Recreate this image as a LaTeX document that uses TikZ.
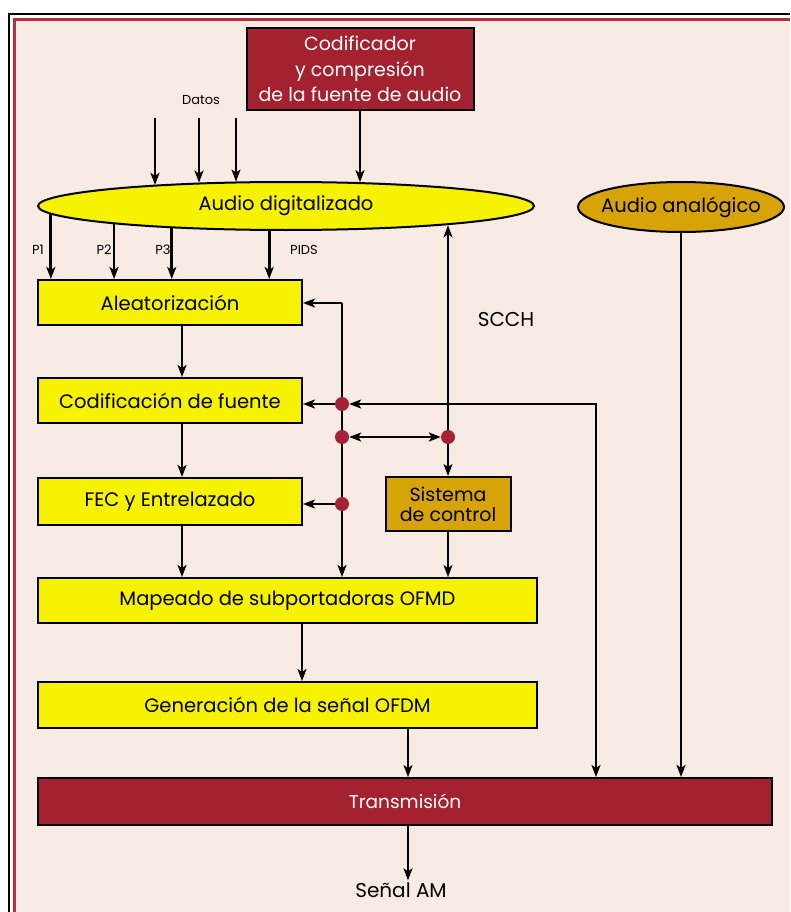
\documentclass[tikz,border=0pt]{standalone}
\usepackage{fontspec}
\setmainfont{Poppins}
\usetikzlibrary{arrows.meta,shapes.geometric}

\definecolor{bgpeach}{HTML}{F8EBE3}
\definecolor{boxyellow}{HTML}{F7F300}
\definecolor{boxred}{HTML}{A4212F}
\definecolor{boxgold}{HTML}{D6A406}
\definecolor{dotred}{HTML}{A82035}
\definecolor{framered}{HTML}{B5303F}

\pgfdeclarelayer{wires}
\pgfdeclarelayer{paper}
\pgfsetlayers{paper,wires,main}

\begin{document}
\begin{tikzpicture}[x=1pt,y=-1pt,
  tip/.tip={Stealth[length=12pt,width=9pt,inset=3pt]},
  ybox/.style={draw=black, line width=2pt, fill=boxyellow, minimum width=264pt,
    minimum height=45pt, inner sep=0pt, font=\fontsize{19.5}{22}\selectfont},
  rbox/.style={draw=black, line width=2pt, fill=boxred, text=white, inner sep=0pt,
    font=\fontsize{18.5}{22}\selectfont},
  oval/.style={ellipse, draw=black, line width=2pt, inner sep=0pt,
    font=\fontsize{19.5}{22}\selectfont},
  tag/.style={inner sep=1pt, font=\fontsize{13}{15}\selectfont},
  plain/.style={inner sep=2pt, font=\fontsize{20}{22}\selectfont},
  junction/.style={circle, fill=dotred, minimum size=14pt, inner sep=0pt},
  arr/.style={-tip, line width=2.8pt},
  arrmid/.style={-tip, line width=2.1pt},
  arrthin/.style={-tip, line width=1.6pt},
  both/.style={tip-tip, line width=2.1pt},
  boththin/.style={tip-tip, line width=1.6pt}]

\useasboundingbox (0,0) rectangle (790,912);

% page frame
\begin{pgfonlayer}{paper}
\fill[white] (0,0) rectangle (790,912);
\fill[bgpeach] (16,21) rectangle (790,912);
\draw[line width=2.5pt, line join=miter] (9,912) -- (9,14) -- (790,14);
\draw[framered, line width=3pt, line join=miter] (14.5,912) -- (14.5,19.5) -- (790,19.5);
\end{pgfonlayer}

% blocks
\node[rbox, minimum width=227pt, minimum height=82pt, align=center,
  font=\fontsize{19}{25.5}\selectfont] (cod) at (360,69)
  {Codificador\\y compresión\\de la fuente de audio};
\node[oval, fill=boxyellow, minimum width=496pt, minimum height=48pt] (dig) at (286,206)
  {\makebox[0pt]{Audio digitalizado}};
\node[oval, fill=boxgold, minimum width=206pt, minimum height=50pt] (ana) at (681,207)
  {\makebox[0pt]{Audio analógico}};

\node[ybox] (alea) at (170,302.5) {Aleatorización};
\node[ybox] (codf) at (170,400.5) {Codificación de fuente};
\node[ybox, minimum height=47pt] (fec) at (170,501.5) {FEC y Entrelazado};
\node[ybox, fill=boxgold, minimum width=125pt, minimum height=54pt, align=center,
  font=\fontsize{19}{20}\selectfont] (sis) at (448,504) {Sistema\\de control};
\node[ybox, minimum width=499pt] (map) at (287.5,600.5) {Mapeado de subportadoras OFMD};
\node[ybox, minimum width=499pt, minimum height=46pt] (gen) at (287.5,705)
  {Generación de la señal OFDM};
\node[rbox, minimum width=734pt, minimum height=47pt] (tra) at (405,801.5) {Transmisión};

% labels
\node[tag] (datos) at (201,100) {Datos};
\node[tag] (p1) at (38,250) {P1};
\node[tag] (p2) at (104,250) {P2};
\node[tag] (p3) at (163,250) {P3};
\node[tag] (pids) at (304,250) {PIDS};
\node[plain] (scch) at (506,320) {SCCH};
\node[plain] (senal) at (401,890) {Señal AM};

% control bus junctions
\node[junction] (k1) at (342,404) {};
\node[junction] (k2) at (342,437) {};
\node[junction] (k3) at (342,504) {};
\node[junction] (k4) at (448,437) {};
\coordinate (bustop) at (342,303);
\coordinate (loop) at (596,404);

\coordinate (d1) at (155,118);
\coordinate (d2) at (199,118);
\coordinate (d3) at (236,118);

\begin{pgfonlayer}{wires}
% data inputs to the digital audio
\draw[arr] (d1) -- (d1 |- dig.171.15);
\draw[arr] (d2) -- (d2 |- dig.165.5);
\draw[arrthin] (d3) -- (d3 |- dig.154.8);
\draw[arr] (cod.south) -- (cod.south |- dig.17.2);

% programme streams
\draw[arr] (dig.182.82) -- (dig.182.82 |- alea.north);
\draw[arr] (dig.186.34) -- (dig.186.34 |- alea.north);
\draw[arr] (dig.191.97) -- (dig.191.97 |- alea.north);
\draw[arr] (dig.236.26) -- (dig.236.26 |- alea.north);

% main chain
\draw[arr] ([xshift=12pt]alea.south) -- ([xshift=12pt]codf.north);
\draw[arr] ([xshift=12pt]codf.south) -- ([xshift=12pt]fec.north);
\draw[arr] ([xshift=12pt]fec.south) -- ([xshift=12pt]fec.south |- map.north);
\draw[arr] ([xshift=14.5pt]map.south) -- ([xshift=14.5pt]gen.north);
\draw[arrthin] ([xshift=120.5pt]gen.south) -- ([xshift=120.5pt]gen.south |- tra.north);
\draw[arrthin] ([xshift=3pt]tra.south) -- ([xshift=3pt]tra.south |- senal.north);
\draw[arr] (ana.south) -- (ana.south |- tra.north);

% control bus
\draw[arrmid] (bustop) -- (bustop -| alea.east);
\draw[arr] (bustop) -- (bustop |- map.north);
\draw[arrmid] (k1) -- (k1 -| codf.east);
\draw[arrmid] (k3) -- (k3 -| fec.east);
\draw[tip-, line width=2.1pt] (k1) -- (loop);
\draw[-tip, line width=2.8pt, line cap=rect] (loop) -- (loop |- tra.north);
\draw[both] (k2) -- (k4);
\draw[boththin] (sis.north |- dig.353.59) -- (sis.north);
\draw[arrthin] (sis.south) -- (sis.south |- map.north);
\end{pgfonlayer}
\end{tikzpicture}
\end{document}
